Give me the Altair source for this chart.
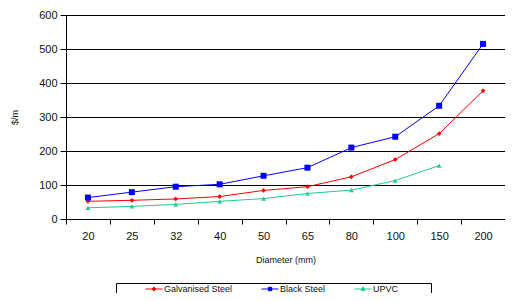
import altair as alt
import pandas as pd

diameters = ["20", "25", "32", "40", "50", "65", "80", "100", "150", "200"]
galvanised = [52, 55, 59, 66, 84, 95, 124, 175, 251, 377]
black_steel = [63, 79, 95, 102, 127, 151, 210, 242, 333, 515]
upvc = [33, 37, 43, 52, 60, 75, 85, 113, 157, None]

series_names = ["Galvanised Steel", "Black Steel", "UPVC"]
series_colors = ["#FF0000", "#0000FF", "#1ECB98"]
marker_shapes = ["diamond", "square", "triangle-up"]
marker_sizes = [22, 36, 24]
legend_paths = [
    "M-2,0H2M0,-0.45L0.45,0L0,0.45L-0.45,0Z",
    "M-2,0H2M-0.4,-0.4H0.4V0.4H-0.4Z",
    "M-2,0H2M0,-0.5L0.45,0.32H-0.45Z",
]

rows = []
for name, vals in zip(series_names, [galvanised, black_steel, upvc]):
    for d, v in zip(diameters, vals):
        if v is not None:
            rows.append({"Diameter": d, "Cost": v, "Series": name})
df = pd.DataFrame(rows)

FONT = "Liberation Sans"

x_enc = alt.X(
    "Diameter:N",
    sort=diameters,
    scale=alt.Scale(paddingInner=0, paddingOuter=0),
    axis=alt.Axis(
        title="Diameter (mm)",
        labelAngle=0,
        tickBand="extent",
        tickSize=5,
        labelPadding=6,
        titlePadding=14,
        labelFontSize=11,
        titleFontSize=9,
        titleFontWeight="normal",
        domainColor="black",
        tickColor="black",
        labelColor="#111",
        titleColor="#111",
    ),
)
y_enc = alt.Y(
    "Cost:Q",
    scale=alt.Scale(domain=[0, 600], nice=False),
    axis=alt.Axis(
        title="$/m",
        values=[0, 100, 200, 300, 400, 500, 600],
        tickSize=6,
        labelPadding=3,
        titlePadding=19,
        labelFontSize=11,
        titleFontSize=9,
        titleFontWeight="normal",
        domainColor="black",
        tickColor="black",
        gridColor="black",
        gridOpacity=1,
        gridWidth=1,
        labelColor="#111",
        titleColor="#111",
    ),
)

legend_spec = alt.Legend(
    orient="none",
    legendX=50,
    legendY=268,
    direction="horizontal",
    title="\u00a0",
    titleOrient="right",
    titlePadding=32,
    titleFontSize=9,
    strokeColor="black",
    padding=1,
    symbolSize=72,
    symbolStrokeWidth=1,
    symbolOffset=32,
    labelFontSize=9,
    labelOffset=5,
    labelColor="#111",
    columnPadding=0,
)


def color_enc():
    return alt.Color(
        "Series:N",
        scale=alt.Scale(domain=series_names, range=series_colors),
        legend=legend_spec,
    )


base = alt.Chart(df)

lines = base.mark_line(strokeWidth=1).encode(x=x_enc, y=y_enc, color=color_enc())

point_layers = []
for name, shp, sz in zip(series_names, marker_shapes, marker_sizes):
    point_layers.append(
        base.transform_filter(alt.datum.Series == name)
        .mark_point(filled=True, opacity=1, shape=shp, size=sz)
        .encode(x=x_enc, y=y_enc, color=color_enc())
    )

legend_layer = base.mark_point(filled=True, opacity=1, strokeWidth=1, clip=True).encode(
    x=x_enc,
    y=alt.value(-60),
    color=color_enc(),
    stroke=alt.Stroke(
        "Series:N",
        scale=alt.Scale(domain=series_names, range=series_colors),
        legend=legend_spec,
    ),
    shape=alt.Shape(
        "Series:N",
        scale=alt.Scale(domain=series_names, range=legend_paths),
        legend=legend_spec,
    ),
)

chart = (
    alt.layer(lines, *point_layers, legend_layer)
    .properties(
        width=439,
        height=204,
        autosize=alt.AutoSizeParams(type="none"),
        padding={"left": 58, "top": 7, "right": 0, "bottom": 74},
    )
    .configure(font=FONT)
    .configure_view(strokeWidth=0)
)

chart.save("out.html", embed_options={"renderer": "svg", "actions": False})
